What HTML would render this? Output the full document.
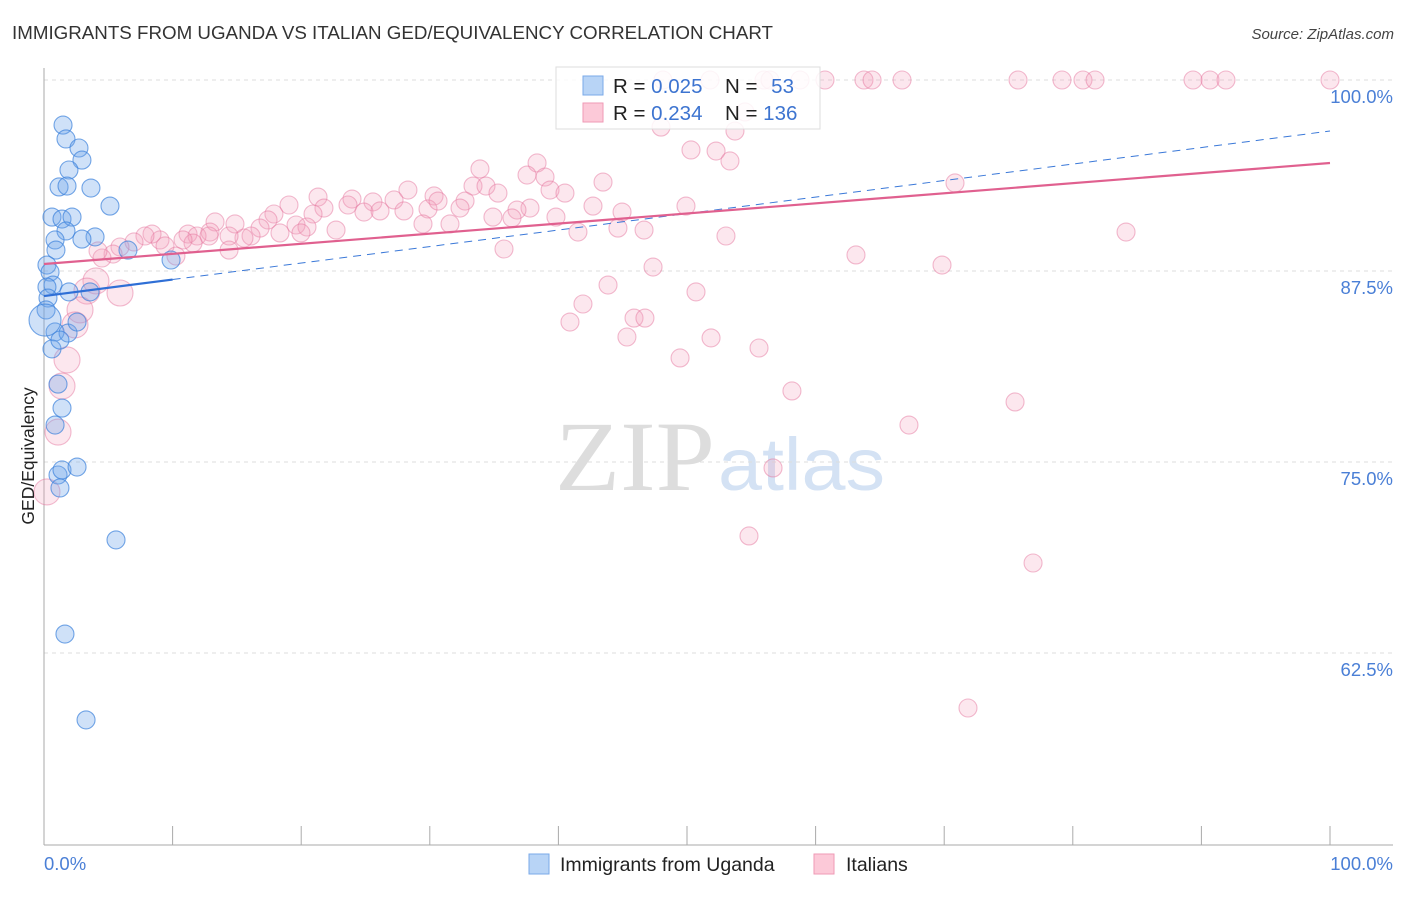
<!DOCTYPE html>
<html><head><meta charset="utf-8"><style>
body{margin:0;background:#fff;font-family:"Liberation Sans",sans-serif;}
</style></head><body>
<svg width="1406" height="892" xmlns="http://www.w3.org/2000/svg" style="font-family:'Liberation Sans',sans-serif">
<text x="12" y="39" font-size="18" fill="#333" textLength="761" lengthAdjust="spacingAndGlyphs">IMMIGRANTS FROM UGANDA VS ITALIAN GED/EQUIVALENCY CORRELATION CHART</text>
<text x="1394" y="39" font-size="15" fill="#444" text-anchor="end" font-style="italic">Source: ZipAtlas.com</text>
<g>
<text x="555" y="490" font-size="100" fill="#ddd" font-family="Liberation Serif,serif" textLength="160" lengthAdjust="spacingAndGlyphs">ZIP</text>
<text x="718" y="490" font-size="74" fill="#d4e2f4" textLength="167" lengthAdjust="spacingAndGlyphs">atlas</text>
</g>
<g id="grid"></g>
<g id="axes"></g>
<g id="marks"></g>
<g id="trend"></g>
<text transform="translate(34,456) rotate(-90)" font-size="17.5" fill="#222" text-anchor="middle">GED/Equivalency</text>
<text x="44" y="870" font-size="18.5" fill="#4a7fd6">0.0%</text>
<text x="1393" y="870" font-size="18.5" fill="#4a7fd6" text-anchor="end">100.0%</text>
<g>
<rect x="556" y="67" width="264" height="62" fill="#fff" fill-opacity="0.85" stroke="#ddd"/>
<rect x="583" y="76" width="20" height="19" fill="#b8d4f6" stroke="#7aaae8"/>
<rect x="583" y="103" width="20" height="19" fill="#fcc9d8" stroke="#ef9ab6"/>
<text x="613" y="93" font-size="20.5" fill="#222">R = <tspan fill="#3d74d0">0.025</tspan></text>
<text x="725" y="93" font-size="20.5" fill="#222">N = <tspan fill="#3d74d0" dx="8">53</tspan></text>
<text x="613" y="120" font-size="20.5" fill="#222">R = <tspan fill="#3d74d0">0.234</tspan></text>
<text x="725" y="120" font-size="20.5" fill="#222">N = <tspan fill="#3d74d0">136</tspan></text>
</g>
<g>
<rect x="529" y="854" width="20" height="20" fill="#b8d4f6" stroke="#7aaae8"/>
<text x="560" y="871" font-size="19.5" fill="#222">Immigrants from Uganda</text>
<rect x="814" y="854" width="20" height="20" fill="#fcc9d8" stroke="#ef9ab6"/>
<text x="846" y="871" font-size="19.5" fill="#222">Italians</text>
</g>
</svg>
<script>
const yTicks=[100,87.5,75,62.5];
const yTickLabels=["100.0%","87.5%","75.0%","62.5%"];
const xTicks=[10,20,30,40,50,60,70,80,90,100];
const blueX=[1.48,1.71,2.72,2.95,1.94,1.17,1.79,3.65,5.13,0.62,1.40,2.18,1.71,0.86,3.97,2.95,0.93,0.23,0.47,0.70,0.23,1.94,3.58,0.31,0.86,1.87,2.57,0.62,1.09,1.40,0.86,1.09,1.40,2.57,1.24,5.60,1.63,3.27,6.53,9.88,0.16,1.24];
const blueY=[97.05,96.14,95.55,94.76,94.11,93.0,93.06,92.93,91.75,91.03,90.90,91.03,90.12,89.53,89.73,89.59,88.87,87.89,87.43,86.58,86.45,86.13,86.13,85.73,83.51,83.44,84.16,82.40,80.10,78.53,77.42,74.15,74.48,74.67,73.30,69.90,63.74,58.12,88.87,88.22,84.95,82.98];
const blueBigX=[0.08];
const blueBigY=[84.29];
const pinkX=[48.13,51.79,55.99,56.45,58.79,60.73,63.76,64.39,66.72,75.74,79.16,80.79,81.73,89.35,90.67,91.91,100,
47.98,53.73,54.51,50.31,52.26,53.34,33.90,38.34,37.56,38.96,43.47,33.36,34.37,35.30,39.35,40.51,28.30,30.33,70.84,21.31,19.05,21.77,23.95,25.58,27.22,23.64,24.88,26.13,27.99,29.86,30.64,32.74,32.35,37.79,36.78,34.91,36.39,42.69,44.95,49.92,39.81,17.88,17.42,16.80,16.10,15.55,20.92,19.60,20.45,22.71,19.98,18.35,13.30,14.85,12.91,14.39,11.20,11.90,12.83,11.59,10.81,9.02,8.40,7.85,9.41,7.00,5.91,5.37,4.51,4.20,10.26,14.39,29.47,31.57,41.52,44.63,46.66,53.03,84.14,35.77,63.14,69.83,47.36,43.86,50.70,41.91,40.90,45.88,46.73,45.33,51.87,49.46,55.60,58.16,75.51,67.26,56.69,54.82,76.91,71.85];
const pinkY=[100,100,100,100,100,100,100,100,100,100,100,100,100,100,100,100,100,
96.92,96.66,97.91,95.42,95.35,94.70,94.18,94.57,93.78,93.65,93.32,93.06,93.06,92.60,92.80,92.60,92.80,92.41,93.26,92.34,91.82,91.62,92.21,92.02,92.15,91.82,91.36,91.43,91.43,91.56,92.08,92.08,91.62,91.62,91.49,91.03,90.97,91.75,91.36,91.75,91.03,91.23,90.84,90.31,89.79,89.66,91.23,90.51,90.38,90.18,89.99,89.99,90.71,90.58,90.05,89.79,89.92,89.79,89.79,89.33,89.53,89.53,89.92,89.79,89.14,89.40,89.07,88.61,88.35,88.81,88.48,88.87,90.58,90.58,90.05,90.31,90.18,89.79,90.05,88.94,88.55,87.89,87.76,86.58,86.13,85.34,84.16,84.42,84.42,83.18,83.12,81.81,82.46,79.65,78.93,77.42,74.61,70.16,68.39,58.90];
const pinkBigX=[4.04,3.34,5.91,2.80,2.41,1.79,1.40,1.09,0.23];
const pinkBigY=[86.85,86.19,86.06,84.95,83.97,81.68,79.97,76.96,73.04];
const blueTrend=[85.86,0.108];
const pinkTrend=[87.96,0.0661];

const sx=v=>44+v*12.86, sy=v=>80+(100-v)*15.28;
const NS="http://www.w3.org/2000/svg";
function mk(t,a,p){const e=document.createElementNS(NS,t);for(const k in a)e.setAttribute(k,a[k]);p.appendChild(e);return e;}
const grid=document.getElementById('grid'),axes=document.getElementById('axes'),marks=document.getElementById('marks'),trend=document.getElementById('trend');
yTicks.forEach((t,i)=>{
 const l=mk('line',{x1:44,x2:1393,y1:sy(t),y2:sy(t),stroke:'#ddd','stroke-dasharray':'4,4'},grid);
 
 
 const tx=mk('text',{x:1393,y:sy(t)+23,'font-size':18.5,fill:'#4a7fd6','text-anchor':'end'},grid);
 tx.textContent=yTickLabels[i];
 
 
});
mk('line',{x1:44,x2:44,y1:68,y2:845,stroke:'#aaa'},axes);
mk('line',{x1:44,x2:1393,y1:845,y2:845,stroke:'#aaa'},axes);
xTicks.forEach(t=>{
 const l=mk('line',{x1:sx(t),x2:sx(t),y1:826,y2:845,stroke:'#aaa'},axes);
 
 
});
function pts(X,Y,r,fill,stroke,name){
 X.forEach((x,i)=>{
  const c=mk('circle',{cx:sx(x),cy:sy(Y[i]),r:r,fill:fill,stroke:stroke,'stroke-width':1.1},marks);
  
  
 });
}
pts(pinkX,pinkY,9,'rgba(244,160,188,0.25)','rgba(230,120,160,0.5)','italians-point');
pts(pinkBigX,pinkBigY,13,'rgba(244,160,188,0.25)','rgba(230,120,160,0.5)','italians-point');
pts(blueX,blueY,9,'rgba(110,165,235,0.33)','rgba(60,130,220,0.7)','uganda-point');
pts(blueBigX,blueBigY,16,'rgba(110,165,235,0.33)','rgba(60,130,220,0.7)','uganda-point');
let l1=mk('line',{x1:sx(10),y1:sy(blueTrend[0]+blueTrend[1]*10),x2:sx(100),y2:sy(blueTrend[0]+blueTrend[1]*100),stroke:'#3a78d8','stroke-width':1,'stroke-dasharray':'8,6'},trend);


let l2=mk('line',{x1:sx(0),y1:sy(blueTrend[0]),x2:sx(10),y2:sy(blueTrend[0]+blueTrend[1]*10),stroke:'#2f6fd6','stroke-width':2.2},trend);


let l3=mk('line',{x1:sx(0),y1:sy(pinkTrend[0]),x2:sx(100),y2:sy(pinkTrend[0]+pinkTrend[1]*100),stroke:'#e0608f','stroke-width':2.2},trend);


</script>
</body></html>
